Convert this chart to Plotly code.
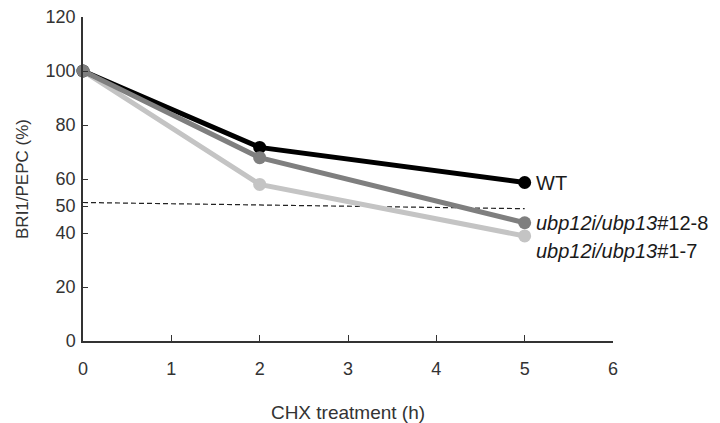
import plotly.graph_objects as go

hours = [0, 2, 5]
wt = [100, 71.7, 58.7]
line_12_8 = [100, 67.9, 43.8]
line_1_7 = [100, 58.0, 38.9]
threshold_x = [0, 5]
threshold_y = [51.3, 49.0]

series = [
    ("<i>ubp12i/ubp13</i>#1-7", line_1_7, "#c4c4c4"),
    ("WT", wt, "#000000"),
    ("<i>ubp12i/ubp13</i>#12-8", line_12_8, "#7f7f7f"),
]

fig = go.Figure()
fig.add_trace(go.Scatter(x=threshold_x, y=threshold_y, mode="lines",
                         line=dict(color="#222222", width=1.2, dash="5px,3px"),
                         showlegend=False, hoverinfo="skip"))
for name, vals, col in series:
    fig.add_trace(go.Scatter(x=hours, y=vals, mode="lines+markers", name=name,
                             line=dict(color=col, width=5),
                             marker=dict(color=col, size=13),
                             showlegend=False, cliponaxis=False))

fig.add_annotation(x=5, y=wt[-1], text="WT", xanchor="left", showarrow=False,
                   xshift=9, font=dict(size=20, color="#1a1a1a"))
fig.add_annotation(x=5, y=line_12_8[-1], text="<i>ubp12i/ubp13</i>#12-8", xanchor="left",
                   showarrow=False, xshift=9, font=dict(size=20, color="#1a1a1a"))
fig.add_annotation(x=5, y=line_1_7[-1], text="<i>ubp12i/ubp13</i>#1-7", xanchor="left",
                   showarrow=False, xshift=9, yshift=-15, font=dict(size=20, color="#1a1a1a"))

fig.update_layout(
    width=720, height=423,
    margin=dict(l=75, r=115, t=9, b=90, autoexpand=False),
    plot_bgcolor="white", paper_bgcolor="white",
    font=dict(family="Liberation Sans, Arial, sans-serif", color="#333", size=16),
    xaxis=dict(range=[0, 6], tickvals=[0, 1, 2, 3, 4, 5, 6], ticks="inside", ticklen=6,
               tickcolor="#333", showline=True, linecolor="#333", linewidth=1.5,
               showgrid=False, zeroline=False, automargin=False, ticklabelstandoff=11,
               ticklabeloverflow="allow",
               title=dict(text="CHX treatment (h)", font=dict(size=19), standoff=27),
               tickfont=dict(size=18)),
    yaxis=dict(range=[0, 120], tickvals=[0, 20, 40, 50, 60, 80, 100, 120], ticks="inside",
               ticklen=5, tickcolor="#333", showline=True, linecolor="#333", linewidth=1.5,
               showgrid=False, zeroline=False, automargin=False, ticklabelstandoff=2,
               ticklabeloverflow="allow",
               title=dict(text="BRI1/PEPC (%)", font=dict(size=17), standoff=13),
               tickfont=dict(size=18)),
)
fig.write_html("out.html")
